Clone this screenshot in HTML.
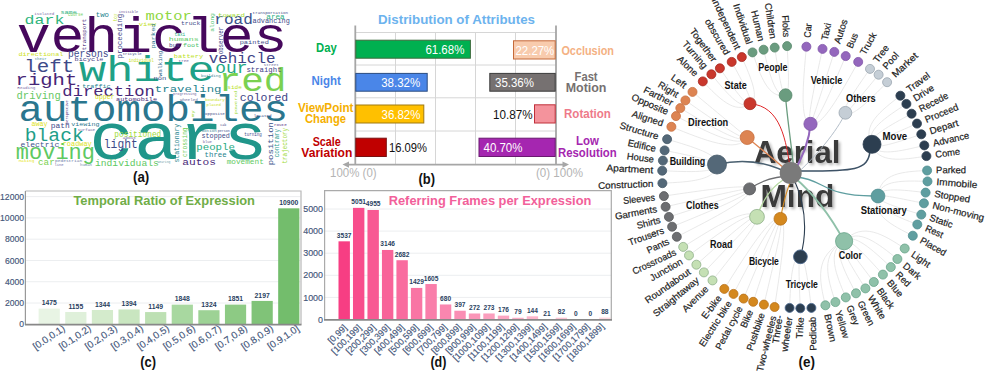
<!DOCTYPE html>
<html><head><meta charset="utf-8"><style>
html,body{margin:0;padding:0;background:#fff;}
svg{display:block;}
</style></head><body>
<svg width="986" height="373" viewBox="0 0 986 373">
<rect width="986" height="373" fill="#fff"/>
<g font-family="Liberation Mono" >
<text transform="translate(16.64,51.5) scale(1.130,1)" font-size="49.93" fill="#46085c">vehicles</text>
<text transform="translate(79.05,81.3) scale(1.275,1)" font-size="35.45" fill="#1fa187">white</text>
<text transform="translate(218.55,91) scale(1.135,1)" font-size="33.24" fill="#7ad151">red</text>
<text transform="translate(18.47,120.5) scale(1.097,1)" font-size="37.24" fill="#2a768e">automobiles</text>
<text transform="translate(89.32,159) scale(1.130,1)" font-size="65.72" fill="#20968a">cars</text>
<text transform="translate(24.79,141.2) scale(1.105,1)" font-size="17.79" fill="#1f9e89">black</text>
<text transform="translate(15.84,158.9) scale(1.028,1)" font-size="21.4" fill="#5ec962">moving</text>
<text transform="translate(24.19,71.7) scale(1.179,1)" font-size="17.66" fill="#3e4a89">left</text>
<text transform="translate(15.57,84.6) scale(1.233,1)" font-size="16.69" fill="#482677">right</text>
<text transform="translate(24.59,23.6) scale(1.225,1)" font-size="13.52" fill="#30b57c">dark</text>
<text transform="translate(145.56,20.1) scale(1.132,1)" font-size="13.64" fill="#8fd744">motor</text>
<text transform="translate(214.3,24.1) scale(1.121,1)" font-size="14.34" fill="#3b528b">road</text>
<text transform="translate(217.91,16.9) scale(1.362,1)" font-size="5.52" fill="#a5db36">toward</text>
<text transform="translate(252.57,23.3) scale(1.044,1)" font-size="6.62" fill="#3e4a89">advancing</text>
<text transform="translate(266.32,18.5) scale(1.158,1)" font-size="6.63" fill="#29af7f">area</text>
<text transform="translate(252.61,13.5) scale(1.020,1)" font-size="4.14" fill="#3e4a89">transportation</text>
<text transform="translate(181.01,25) scale(1.167,1)" font-size="5.52" fill="#3e4a89">truck</text>
<text transform="translate(174.59,36.2) scale(0.803,1)" font-size="5.52" fill="#26ad81">taxi</text>
<text transform="translate(168.85,41) scale(1.335,1)" font-size="6.21" fill="#5ec962">humans</text>
<text transform="translate(169.07,46.6) scale(0.978,1)" font-size="6.21" fill="#414487">bus</text>
<text transform="translate(183.05,46.6) scale(1.084,1)" font-size="6.21" fill="#4ac16d">foot</text>
<text transform="translate(173.79,58.3) scale(1.129,1)" font-size="6.21" fill="#bddf26">battery</text>
<text transform="translate(178.61,61.5) scale(1.241,1)" font-size="3.45" fill="#6c5c9c">tree</text>
<text transform="translate(239.69,44.2) scale(1.124,1)" font-size="6.21" fill="#3e4a89">painted</text>
<text transform="translate(208.78,62.9) scale(1.096,1)" font-size="14.48" fill="#414487">vehicle</text>
<text transform="translate(215.37,72.5) scale(1.074,1)" font-size="16.67" fill="#22a884">our</text>
<text transform="translate(246.41,71.7) scale(1.062,1)" font-size="6.9" fill="#433e85">straight</text>
<text transform="translate(239.87,100.6) scale(1.045,1)" font-size="11.03" fill="#414487">colored</text>
<text transform="translate(227.31,88.6) scale(0.972,1)" font-size="6.21" fill="#bddf26">side</text>
<text transform="translate(154.86,91.5) scale(1.297,1)" font-size="9.52" fill="#26828e">traveling</text>
<text transform="translate(153.38,79.7) scale(1.256,1)" font-size="5.68" fill="#3e4a89">non</text>
<text transform="translate(62.35,95.5) scale(1.141,1)" font-size="15.03" fill="#482878">direction</text>
<text transform="translate(116.08,101) scale(1.103,1)" font-size="6.21" fill="#482878">automobile</text>
<text transform="translate(95.01,99) scale(0.984,1)" font-size="6.63" fill="#d8e219">upper</text>
<text transform="translate(128.71,62) scale(0.864,1)" font-size="4.83" fill="#c8e020">individual</text>
<text transform="translate(122.64,54.8) scale(0.958,1)" font-size="4.14" fill="#3e4a89">tricycle</text>
<text transform="translate(95.72,16.9) scale(1.023,1)" font-size="7.2" fill="#26828e">two</text>
<text transform="translate(60.45,13.7) scale(1.127,1)" font-size="6.06" fill="#29af7f">same</text>
<text transform="translate(68.04,16) scale(0.882,1)" font-size="4.73" fill="#6ece58">course</text>
<text transform="translate(34.31,15.3) scale(1.004,1)" font-size="4.14" fill="#7c6ca8">isolated</text>
<text transform="translate(138.76,25.7) scale(1.162,1)" font-size="6.21" fill="#c2df23">view</text>
<text transform="translate(118.75,12.9) scale(0.872,1)" font-size="4.14" fill="#6c5c9c">invisible</text>
<text transform="translate(67.96,56.5) scale(0.926,1)" font-size="10.42" fill="#3e4a89">persons</text>
<text transform="translate(74.6,60.5) scale(1.244,1)" font-size="5.52" fill="#433e85">bicycle</text>
<text transform="translate(34.63,59.7) scale(0.960,1)" font-size="4.14" fill="#3e8a99">their</text>
<text transform="translate(18.44,56.4) scale(1.124,1)" font-size="6.07" fill="#cde11d">directional</text>
<text transform="translate(17.36,88.6) scale(1.243,1)" font-size="3.45" fill="#7c6ca8">Reading</text>
<text transform="translate(16.49,98.8) scale(1.047,1)" font-size="10.07" fill="#66c763">driving</text>
<text transform="translate(82.18,87.8) scale(1.090,1)" font-size="6.21" fill="#26828e">traffic</text>
<text transform="translate(31.59,125.9) scale(1.008,1)" font-size="6.63" fill="#dde318">away</text>
<text transform="translate(50.71,127.5) scale(1.146,1)" font-size="6.9" fill="#3e4a89">path</text>
<text transform="translate(71.28,125.9) scale(1.081,1)" font-size="6.21" fill="#2a788e">viewing</text>
<text transform="translate(77.66,130.7) scale(1.209,1)" font-size="3.45" fill="#6c5c9c">surface</text>
<text transform="translate(20.48,147.1) scale(1.065,1)" font-size="7.59" fill="#3b528b">electric</text>
<text transform="translate(62.68,146) scale(1.006,1)" font-size="6.9" fill="#dde318">roadway</text>
<text transform="translate(38.02,165) scale(0.980,1)" font-size="9.47" fill="#7ad151">car</text>
<text transform="translate(18.73,162) scale(1.260,1)" font-size="3.45" fill="#e5e419">Making</text>
<text transform="translate(55.11,162.3) scale(1.309,1)" font-size="3.45" fill="#6c7ca8">pedestrian</text>
<text transform="translate(54.5,166) scale(1.105,1)" font-size="3.45" fill="#6c6ca8">line</text>
<text transform="translate(80.04,165.5) scale(1.161,1)" font-size="3.45" fill="#6c8ca8">human</text>
<text transform="translate(157.67,163.3) scale(0.869,1)" font-size="3.45" fill="#6c9ca8">wearing</text>
<text transform="translate(103.83,147.6) scale(0.854,1)" font-size="13.24" fill="#3e4a89">light</text>
<text transform="translate(114.32,137.4) scale(0.948,1)" font-size="8.28" fill="#a0da39">positioned</text>
<text transform="translate(122.72,139) scale(1.309,1)" font-size="3.45" fill="#6c5c9c">about</text>
<text transform="translate(94.93,166) scale(1.079,1)" font-size="8.97" fill="#5ec962">individuals</text>
<text transform="translate(201.45,138) scale(0.985,1)" font-size="6.9" fill="#3e4a89">stopped</text>
<text transform="translate(196.27,149.5) scale(1.081,1)" font-size="9.93" fill="#25ab82">people</text>
<text transform="translate(204.62,157.3) scale(1.066,1)" font-size="6.9" fill="#26828e">three</text>
<text transform="translate(182.31,164.5) scale(1.250,1)" font-size="8.97" fill="#482878">autos</text>
<text transform="translate(226.63,163.7) scale(1.123,1)" font-size="6.9" fill="#5ec962">movement</text>
<text transform="translate(244.32,135.5) scale(0.865,1)" font-size="4.83" fill="#3e4a89">turning</text>
<text transform="translate(253.75,116.6) scale(1.230,1)" font-size="3.45" fill="#3e4a89">located</text>
<text transform="translate(205.04,114.6) scale(1.198,1)" font-size="3.45" fill="#3e4a89">opposite</text>
<text transform="translate(220.29,126) scale(0.955,1)" font-size="3.45" fill="#3e4a89">cab</text>
<text transform="translate(217.71,131.5) scale(0.965,1)" font-size="3.45" fill="#3e4a89">person</text>
<text transform="translate(201.8,132.3) scale(1.214,1)" font-size="3.45" fill="#3e8a99">motion</text>
<text transform="translate(202.66,142.8) scale(1.122,1)" font-size="3.45" fill="#6c5c9c">blue</text>
<text transform="translate(273.89,126) scale(1.246,1)" font-size="3.45" fill="#482878">route</text>
<text transform="translate(200.94,77.3) scale(1.002,1)" font-size="4.14" fill="#3e8a99">building</text>
<text transform="translate(263.66,66.1) scale(1.019,1)" font-size="4.14" fill="#6c6c9c">street</text>
<text transform="translate(204.94,100.6) scale(0.996,1)" font-size="4.14" fill="#c8e020">boundary</text>
<text transform="translate(206.55,105.5) scale(0.959,1)" font-size="4.14" fill="#c8e020">placed</text>
<text transform="translate(173.09,95.4) scale(0.857,1)" font-size="4.14" fill="#6c5c9c">progressing</text>
<text transform="translate(179.96,100.7) scale(1.030,1)" font-size="4.14" fill="#6c6c9c">wheeled</text>
<text transform="translate(86.46,50.34) rotate(-90) scale(1.067,1)" font-size="5.49" fill="#482878">transport</text>
<text transform="translate(121.55,58.55) rotate(-90) scale(1.069,1)" font-size="6.97" fill="#414487">proceeding</text>
<text transform="translate(117.05,21.4) rotate(-90) scale(0.952,1)" font-size="4.58" fill="#bddf26">toy</text>
<text transform="translate(154.89,48.61) rotate(-90) scale(1.307,1)" font-size="5.36" fill="#2a788e">parked</text>
<text transform="translate(213.51,31.78) rotate(-90) scale(1.180,1)" font-size="5.26" fill="#4ac16d">along</text>
<text transform="translate(223.32,54.26) rotate(-90) scale(0.751,1)" font-size="7.62" fill="#414487">observer</text>
<text transform="translate(162.11,76.56) rotate(-90) scale(1.181,1)" font-size="5.26" fill="#31688e">walking</text>
<text transform="translate(67.79,123.81) rotate(-90) scale(1.040,1)" font-size="3.43" fill="#482878">perspective</text>
<text transform="translate(178.57,162.52) rotate(-90) scale(0.941,1)" font-size="6.86" fill="#25858e">stationary</text>
<text transform="translate(186.58,156.89) rotate(-90) scale(0.892,1)" font-size="6.87" fill="#6ece58">crossing</text>
<text transform="translate(272.75,165.29) rotate(-90) scale(1.139,1)" font-size="7.93" fill="#3b528b">position</text>
<text transform="translate(279.47,157.37) rotate(-90) scale(0.929,1)" font-size="6.41" fill="#2a9d8f">contrary</text>
<text transform="translate(286.57,163.55) rotate(-90) scale(0.868,1)" font-size="6.86" fill="#a0da39">trajectory</text>
<text transform="translate(236.81,114.5) rotate(-90) scale(1.332,1)" font-size="4.29" fill="#a0da39">powered</text>
<text transform="translate(194.16,117.27) rotate(-90) scale(1.422,1)" font-size="4.02" fill="#a0da39">my</text>
</g>
<text x="133" y="182.2" font-family="Liberation Sans" font-weight="bold" font-size="14.8" textLength="16.3" lengthAdjust="spacingAndGlyphs" fill="#111">(a)</text>
<g font-family="Liberation Sans">
<text x="378" y="24" font-size="13" font-weight="bold" fill="#6cb3ee" textLength="157" lengthAdjust="spacingAndGlyphs">Distribution of Attributes</text>
<line x1="395.5" y1="32.5" x2="395.5" y2="164" stroke="#d6d6d6" stroke-width="1"/>
<line x1="435.5" y1="32.5" x2="435.5" y2="164" stroke="#d6d6d6" stroke-width="1"/>
<line x1="475.5" y1="32.5" x2="475.5" y2="164" stroke="#d6d6d6" stroke-width="1"/>
<line x1="515.5" y1="32.5" x2="515.5" y2="164" stroke="#d6d6d6" stroke-width="1"/>
<line x1="355" y1="32.5" x2="556" y2="32.5" stroke="#d6d6d6" stroke-width="1"/>
<line x1="355" y1="65" x2="556" y2="65" stroke="#d6d6d6" stroke-width="1"/>
<line x1="355" y1="97.8" x2="556" y2="97.8" stroke="#d6d6d6" stroke-width="1"/>
<line x1="355" y1="131" x2="556" y2="131" stroke="#d6d6d6" stroke-width="1"/>
<line x1="355.3" y1="25.5" x2="355.3" y2="164.5" stroke="#a6a6a6" stroke-width="1.8"/>
<line x1="556" y1="25.5" x2="556" y2="164.5" stroke="#a6a6a6" stroke-width="1.8"/>
<line x1="346" y1="164.6" x2="565" y2="164.6" stroke="#a6a6a6" stroke-width="1.8"/>
<path d="M342.5,164.6 L349,161.4 L349,167.8 Z" fill="#a6a6a6"/>
<path d="M569,164.6 L562.5,161.4 L562.5,167.8 Z" fill="#a6a6a6"/>
<rect x="355.8" y="40.2" width="114.6" height="18" fill="#00b050" stroke="#3d6b3d" stroke-width="1"/>
<rect x="355.8" y="73.4" width="71.4" height="17.8" fill="#4a86e8" stroke="#2b4c80" stroke-width="1"/>
<rect x="355.8" y="105.0" width="68" height="18" fill="#ffc000" stroke="#a07a10" stroke-width="1"/>
<rect x="355.8" y="138.2" width="30.5" height="18.3" fill="#c00000" stroke="#7a1010" stroke-width="1"/>
<rect x="513.5" y="40.8" width="41.7" height="18.2" fill="#f8cbad" stroke="#c56a3a" stroke-width="1"/>
<rect x="489.8" y="73.4" width="65.4" height="17.8" fill="#767171" stroke="#3b3b3b" stroke-width="1"/>
<rect x="534.5" y="104.8" width="20.7" height="18.2" fill="#f4939c" stroke="#c0303a" stroke-width="1"/>
<rect x="479.0" y="138.2" width="76.2" height="18.3" fill="#a526b0" stroke="#6a1a70" stroke-width="1"/>
<text x="425.4" y="53.6" font-size="12.5" fill="#fff" textLength="39" lengthAdjust="spacingAndGlyphs">61.68%</text>
<text x="381.2" y="86.8" font-size="12.5" fill="#fff" textLength="39" lengthAdjust="spacingAndGlyphs">38.32%</text>
<text x="381.5" y="118.8" font-size="12.5" fill="#fff" textLength="39" lengthAdjust="spacingAndGlyphs">36.82%</text>
<text x="389" y="151.8" font-size="12.5" fill="#111" textLength="38" lengthAdjust="spacingAndGlyphs">16.09%</text>
<text x="515.5" y="54.6" font-size="12.5" fill="#fff" textLength="38.8" lengthAdjust="spacingAndGlyphs">22.27%</text>
<text x="495" y="86.8" font-size="12.5" fill="#fff" textLength="39" lengthAdjust="spacingAndGlyphs">35.36%</text>
<text x="493" y="118.8" font-size="12.5" fill="#111" textLength="39.5" lengthAdjust="spacingAndGlyphs">10.87%</text>
<text x="483.5" y="151.8" font-size="12.5" fill="#fff" textLength="39" lengthAdjust="spacingAndGlyphs">40.70%</text>
<text x="316" y="52.3" font-size="12" fill="#00b050" font-weight="bold" textLength="20.7" lengthAdjust="spacingAndGlyphs">Day</text>
<text x="311.5" y="85.3" font-size="12" fill="#4a86e8" font-weight="bold" textLength="29.3" lengthAdjust="spacingAndGlyphs">Night</text>
<text x="298" y="112.3" font-size="12" fill="#f5b000" font-weight="bold" textLength="55.5" lengthAdjust="spacingAndGlyphs">ViewPoint</text>
<text x="305" y="123.2" font-size="12" fill="#f5b000" font-weight="bold" textLength="41" lengthAdjust="spacingAndGlyphs">Change</text>
<text x="312.7" y="146" font-size="12" fill="#c00000" font-weight="bold" textLength="28.1" lengthAdjust="spacingAndGlyphs">Scale</text>
<text x="301.3" y="157.4" font-size="12" fill="#c00000" font-weight="bold" textLength="51" lengthAdjust="spacingAndGlyphs">Variation</text>
<text x="561.4" y="54.8" font-size="12" fill="#f4b183" font-weight="bold" textLength="52.6" lengthAdjust="spacingAndGlyphs">Occlusion</text>
<text x="574.6" y="81" font-size="12" fill="#767171" font-weight="bold" textLength="23" lengthAdjust="spacingAndGlyphs">Fast</text>
<text x="565.7" y="92.2" font-size="12" fill="#767171" font-weight="bold" textLength="40.8" lengthAdjust="spacingAndGlyphs">Motion</text>
<text x="564" y="118.4" font-size="12" fill="#ee7a8a" font-weight="bold" textLength="46.8" lengthAdjust="spacingAndGlyphs">Rotation</text>
<text x="576" y="145.4" font-size="12" fill="#a526b0" font-weight="bold" textLength="22.9" lengthAdjust="spacingAndGlyphs">Low</text>
<text x="558" y="156.7" font-size="12" fill="#a526b0" font-weight="bold" textLength="58.7" lengthAdjust="spacingAndGlyphs">Resolution</text>
<text x="330.1" y="177.3" font-size="12.5" fill="#b4b4b4" textLength="46.5" lengthAdjust="spacingAndGlyphs">100% (0)</text>
<text x="536" y="176.8" font-size="12.5" fill="#b4b4b4" textLength="47" lengthAdjust="spacingAndGlyphs">(0) 100%</text>
<text x="418.5" y="184.3" font-size="14.8" fill="#111" font-weight="bold" textLength="16.5" lengthAdjust="spacingAndGlyphs">(b)</text>
</g>
<g font-family="Liberation Sans">
<line x1="26" y1="303.02" x2="300.5" y2="303.02" stroke="#eceef0" stroke-width="1"/>
<line x1="26" y1="281.74" x2="300.5" y2="281.74" stroke="#eceef0" stroke-width="1"/>
<line x1="26" y1="260.46" x2="300.5" y2="260.46" stroke="#eceef0" stroke-width="1"/>
<line x1="26" y1="239.18" x2="300.5" y2="239.18" stroke="#eceef0" stroke-width="1"/>
<line x1="26" y1="217.9" x2="300.5" y2="217.9" stroke="#eceef0" stroke-width="1"/>
<line x1="26" y1="196.62" x2="300.5" y2="196.62" stroke="#eceef0" stroke-width="1"/>
<text x="24" y="327.4" font-size="8.6" fill="#44567a" text-anchor="end" stroke="#44567a" stroke-width="0.15">0</text>
<text x="24" y="306.12" font-size="8.6" fill="#44567a" text-anchor="end" stroke="#44567a" stroke-width="0.15">2000</text>
<text x="24" y="284.84" font-size="8.6" fill="#44567a" text-anchor="end" stroke="#44567a" stroke-width="0.15">4000</text>
<text x="24" y="263.56" font-size="8.6" fill="#44567a" text-anchor="end" stroke="#44567a" stroke-width="0.15">6000</text>
<text x="24" y="242.28" font-size="8.6" fill="#44567a" text-anchor="end" stroke="#44567a" stroke-width="0.15">8000</text>
<text x="24" y="221" font-size="8.6" fill="#44567a" text-anchor="end" stroke="#44567a" stroke-width="0.15">10000</text>
<text x="24" y="199.72" font-size="8.6" fill="#44567a" text-anchor="end" stroke="#44567a" stroke-width="0.15">12000</text>
<rect x="38.6" y="308.61" width="21.2" height="15.69" fill="#e8f4e4"/>
<text x="49.2" y="305.31" font-size="6.8" fill="#2a3f5f" text-anchor="middle" font-weight="bold">1475</text>
<text transform="translate(48.9,337.4) rotate(-34)" text-anchor="middle" dy="3.3" font-size="9.9" fill="#44567a" stroke="#44567a" stroke-width="0.15">[0.0,0.1)</text>
<rect x="65.22" y="312.01" width="21.2" height="12.29" fill="#dff0da"/>
<text x="75.82" y="308.71" font-size="6.8" fill="#2a3f5f" text-anchor="middle" font-weight="bold">1155</text>
<text transform="translate(74.94,337.4) rotate(-34)" text-anchor="middle" dy="3.3" font-size="9.9" fill="#44567a" stroke="#44567a" stroke-width="0.15">[0.1,0.2)</text>
<rect x="91.84" y="310" width="21.2" height="14.3" fill="#d4ebcc"/>
<text x="102.44" y="306.7" font-size="6.8" fill="#2a3f5f" text-anchor="middle" font-weight="bold">1344</text>
<text transform="translate(100.98,337.4) rotate(-34)" text-anchor="middle" dy="3.3" font-size="9.9" fill="#44567a" stroke="#44567a" stroke-width="0.15">[0.2,0.3)</text>
<rect x="118.46" y="309.47" width="21.2" height="14.83" fill="#c9e6c0"/>
<text x="129.06" y="306.17" font-size="6.8" fill="#2a3f5f" text-anchor="middle" font-weight="bold">1394</text>
<text transform="translate(127.02,337.4) rotate(-34)" text-anchor="middle" dy="3.3" font-size="9.9" fill="#44567a" stroke="#44567a" stroke-width="0.15">[0.3,0.4)</text>
<rect x="145.08" y="312.07" width="21.2" height="12.23" fill="#bde0b3"/>
<text x="155.68" y="308.77" font-size="6.8" fill="#2a3f5f" text-anchor="middle" font-weight="bold">1149</text>
<text transform="translate(153.06,337.4) rotate(-34)" text-anchor="middle" dy="3.3" font-size="9.9" fill="#44567a" stroke="#44567a" stroke-width="0.15">[0.4,0.5)</text>
<rect x="171.7" y="304.64" width="21.2" height="19.66" fill="#a8d8a0"/>
<text x="182.3" y="301.34" font-size="6.8" fill="#2a3f5f" text-anchor="middle" font-weight="bold">1848</text>
<text transform="translate(179.1,337.4) rotate(-34)" text-anchor="middle" dy="3.3" font-size="9.9" fill="#44567a" stroke="#44567a" stroke-width="0.15">[0.5,0.6)</text>
<rect x="198.32" y="310.21" width="21.2" height="14.09" fill="#9dd295"/>
<text x="208.92" y="306.91" font-size="6.8" fill="#2a3f5f" text-anchor="middle" font-weight="bold">1324</text>
<text transform="translate(205.14,337.4) rotate(-34)" text-anchor="middle" dy="3.3" font-size="9.9" fill="#44567a" stroke="#44567a" stroke-width="0.15">[0.6,0.7)</text>
<rect x="224.94" y="304.61" width="21.2" height="19.69" fill="#8dca84"/>
<text x="235.54" y="301.31" font-size="6.8" fill="#2a3f5f" text-anchor="middle" font-weight="bold">1851</text>
<text transform="translate(231.18,337.4) rotate(-34)" text-anchor="middle" dy="3.3" font-size="9.9" fill="#44567a" stroke="#44567a" stroke-width="0.15">[0.7,0.8)</text>
<rect x="251.56" y="300.92" width="21.2" height="23.38" fill="#80c378"/>
<text x="262.16" y="297.62" font-size="6.8" fill="#2a3f5f" text-anchor="middle" font-weight="bold">2197</text>
<text transform="translate(257.22,337.4) rotate(-34)" text-anchor="middle" dy="3.3" font-size="9.9" fill="#44567a" stroke="#44567a" stroke-width="0.15">[0.8,0.9)</text>
<rect x="278.18" y="208.32" width="21.2" height="115.98" fill="#73bd6c"/>
<text x="288.78" y="205.02" font-size="6.8" fill="#2a3f5f" text-anchor="middle" font-weight="bold">10900</text>
<text transform="translate(283.26,337.4) rotate(-34)" text-anchor="middle" dy="3.3" font-size="9.9" fill="#44567a" stroke="#44567a" stroke-width="0.15">[0.9,1.0]</text>
<path d="M25.4,191 L301,191 L301,324.5" fill="none" stroke="#b8b8b8" stroke-width="1.2"/>
<line x1="25.4" y1="191" x2="25.4" y2="325" stroke="#999" stroke-width="1.2"/>
<line x1="25" y1="324.6" x2="301.5" y2="324.6" stroke="#888" stroke-width="1.8"/>
<text x="73.4" y="205.4" font-size="12.9" fill="#70ad47" font-weight="bold" textLength="181.6" lengthAdjust="spacingAndGlyphs">Temporal Ratio of Expression</text>
<text x="140.2" y="367" font-size="14.8" fill="#111" font-weight="bold" textLength="15.8" lengthAdjust="spacingAndGlyphs">(c)</text>
</g>
<g font-family="Liberation Sans">
<line x1="325" y1="297.4" x2="611" y2="297.4" stroke="#eceef0" stroke-width="1"/>
<line x1="325" y1="275.3" x2="611" y2="275.3" stroke="#eceef0" stroke-width="1"/>
<line x1="325" y1="253.2" x2="611" y2="253.2" stroke="#eceef0" stroke-width="1"/>
<line x1="325" y1="231.1" x2="611" y2="231.1" stroke="#eceef0" stroke-width="1"/>
<line x1="325" y1="209" x2="611" y2="209" stroke="#eceef0" stroke-width="1"/>
<text x="323" y="322.6" font-size="8.9" fill="#44567a" text-anchor="end" stroke="#44567a" stroke-width="0.15">0</text>
<text x="323" y="300.5" font-size="8.9" fill="#44567a" text-anchor="end" stroke="#44567a" stroke-width="0.15">1000</text>
<text x="323" y="278.4" font-size="8.9" fill="#44567a" text-anchor="end" stroke="#44567a" stroke-width="0.15">2000</text>
<text x="323" y="256.3" font-size="8.9" fill="#44567a" text-anchor="end" stroke="#44567a" stroke-width="0.15">3000</text>
<text x="323" y="234.2" font-size="8.9" fill="#44567a" text-anchor="end" stroke="#44567a" stroke-width="0.15">4000</text>
<text x="323" y="212.1" font-size="8.9" fill="#44567a" text-anchor="end" stroke="#44567a" stroke-width="0.15">5000</text>
<rect x="338.5" y="241.33" width="11.4" height="78.17" fill="#f73e83"/>
<text x="344.2" y="237.83" font-size="6.6" fill="#2a3f5f" text-anchor="middle" font-weight="bold">3537</text>
<text transform="translate(345.3,325.8) rotate(-45)" text-anchor="end" dy="3.3" font-size="9.1" fill="#44567a" stroke="#44567a" stroke-width="0.15">[0,99]</text>
<rect x="352.98" y="207.87" width="11.4" height="111.63" fill="#f84d8c"/>
<text x="358.68" y="204.37" font-size="6.6" fill="#2a3f5f" text-anchor="middle" font-weight="bold">5051</text>
<text transform="translate(359.58,325.74) rotate(-45)" text-anchor="end" dy="3.3" font-size="9.1" fill="#44567a" stroke="#44567a" stroke-width="0.15">[100,199]</text>
<rect x="367.46" y="209.99" width="11.4" height="109.51" fill="#f85993"/>
<text x="373.16" y="206.49" font-size="6.6" fill="#2a3f5f" text-anchor="middle" font-weight="bold">4955</text>
<text transform="translate(373.86,325.68) rotate(-45)" text-anchor="end" dy="3.3" font-size="9.1" fill="#44567a" stroke="#44567a" stroke-width="0.15">[200,299]</text>
<rect x="381.94" y="249.97" width="11.4" height="69.53" fill="#f86399"/>
<text x="387.64" y="246.47" font-size="6.6" fill="#2a3f5f" text-anchor="middle" font-weight="bold">3146</text>
<text transform="translate(388.14,325.62) rotate(-45)" text-anchor="end" dy="3.3" font-size="9.1" fill="#44567a" stroke="#44567a" stroke-width="0.15">[300,399]</text>
<rect x="396.42" y="260.23" width="11.4" height="59.27" fill="#f96c9f"/>
<text x="402.12" y="256.73" font-size="6.6" fill="#2a3f5f" text-anchor="middle" font-weight="bold">2682</text>
<text transform="translate(402.42,325.56) rotate(-45)" text-anchor="end" dy="3.3" font-size="9.1" fill="#44567a" stroke="#44567a" stroke-width="0.15">[400,499]</text>
<rect x="410.9" y="287.92" width="11.4" height="31.58" fill="#f975a4"/>
<text x="416.6" y="284.42" font-size="6.6" fill="#2a3f5f" text-anchor="middle" font-weight="bold">1429</text>
<text transform="translate(416.7,325.5) rotate(-45)" text-anchor="end" dy="3.3" font-size="9.1" fill="#44567a" stroke="#44567a" stroke-width="0.15">[500,599]</text>
<rect x="425.38" y="284.03" width="11.4" height="35.47" fill="#f97eaa"/>
<text x="431.08" y="280.53" font-size="6.6" fill="#2a3f5f" text-anchor="middle" font-weight="bold">1605</text>
<text transform="translate(430.98,325.44) rotate(-45)" text-anchor="end" dy="3.3" font-size="9.1" fill="#44567a" stroke="#44567a" stroke-width="0.15">[600,699]</text>
<rect x="439.86" y="304.47" width="11.4" height="15.03" fill="#fa86af"/>
<text x="445.56" y="300.97" font-size="6.6" fill="#2a3f5f" text-anchor="middle" font-weight="bold">680</text>
<text transform="translate(445.26,325.38) rotate(-45)" text-anchor="end" dy="3.3" font-size="9.1" fill="#44567a" stroke="#44567a" stroke-width="0.15">[700,799]</text>
<rect x="454.34" y="310.73" width="11.4" height="8.77" fill="#fa8eb4"/>
<text x="460.04" y="307.23" font-size="6.6" fill="#2a3f5f" text-anchor="middle" font-weight="bold">397</text>
<text transform="translate(459.54,325.32) rotate(-45)" text-anchor="end" dy="3.3" font-size="9.1" fill="#44567a" stroke="#44567a" stroke-width="0.15">[800,899]</text>
<rect x="468.82" y="313.49" width="11.4" height="6.01" fill="#fa96b8"/>
<text x="474.52" y="309.99" font-size="6.6" fill="#2a3f5f" text-anchor="middle" font-weight="bold">272</text>
<text transform="translate(473.82,325.26) rotate(-45)" text-anchor="end" dy="3.3" font-size="9.1" fill="#44567a" stroke="#44567a" stroke-width="0.15">[900,999]</text>
<rect x="483.3" y="313.47" width="11.4" height="6.03" fill="#fb9ebd"/>
<text x="489" y="309.97" font-size="6.6" fill="#2a3f5f" text-anchor="middle" font-weight="bold">273</text>
<text transform="translate(488.1,325.2) rotate(-45)" text-anchor="end" dy="3.3" font-size="9.1" fill="#44567a" stroke="#44567a" stroke-width="0.15">[1000,1099]</text>
<rect x="497.78" y="315.61" width="11.4" height="3.89" fill="#fba6c2"/>
<text x="503.48" y="312.11" font-size="6.6" fill="#2a3f5f" text-anchor="middle" font-weight="bold">176</text>
<text transform="translate(502.38,325.14) rotate(-45)" text-anchor="end" dy="3.3" font-size="9.1" fill="#44567a" stroke="#44567a" stroke-width="0.15">[1100,1199]</text>
<rect x="512.26" y="317.75" width="11.4" height="1.75" fill="#fbadc6"/>
<text x="517.96" y="314.25" font-size="6.6" fill="#2a3f5f" text-anchor="middle" font-weight="bold">79</text>
<text transform="translate(516.66,325.08) rotate(-45)" text-anchor="end" dy="3.3" font-size="9.1" fill="#44567a" stroke="#44567a" stroke-width="0.15">[1200,1299]</text>
<rect x="526.74" y="316.32" width="11.4" height="3.18" fill="#fcb5cb"/>
<text x="532.44" y="312.82" font-size="6.6" fill="#2a3f5f" text-anchor="middle" font-weight="bold">144</text>
<text transform="translate(530.94,325.02) rotate(-45)" text-anchor="end" dy="3.3" font-size="9.1" fill="#44567a" stroke="#44567a" stroke-width="0.15">[1300,1399]</text>
<rect x="541.22" y="319.04" width="11.4" height="0.46" fill="#fcbccf"/>
<text x="546.92" y="315.54" font-size="6.6" fill="#2a3f5f" text-anchor="middle" font-weight="bold">21</text>
<text transform="translate(545.22,324.96) rotate(-45)" text-anchor="end" dy="3.3" font-size="9.1" fill="#44567a" stroke="#44567a" stroke-width="0.15">[1400,1499]</text>
<rect x="555.7" y="317.69" width="11.4" height="1.81" fill="#fcc3d3"/>
<text x="561.4" y="314.19" font-size="6.6" fill="#2a3f5f" text-anchor="middle" font-weight="bold">82</text>
<text transform="translate(559.5,324.9) rotate(-45)" text-anchor="end" dy="3.3" font-size="9.1" fill="#44567a" stroke="#44567a" stroke-width="0.15">[1500,1599]</text>
<text x="575.88" y="316" font-size="6.6" fill="#2a3f5f" text-anchor="middle" font-weight="bold">0</text>
<text transform="translate(573.78,324.84) rotate(-45)" text-anchor="end" dy="3.3" font-size="9.1" fill="#44567a" stroke="#44567a" stroke-width="0.15">[1600,1699]</text>
<text x="590.36" y="316" font-size="6.6" fill="#2a3f5f" text-anchor="middle" font-weight="bold">0</text>
<text transform="translate(588.06,324.78) rotate(-45)" text-anchor="end" dy="3.3" font-size="9.1" fill="#44567a" stroke="#44567a" stroke-width="0.15">[1700,1799]</text>
<rect x="599.14" y="317.56" width="11.4" height="1.94" fill="#fdd8e0"/>
<text x="604.84" y="314.06" font-size="6.6" fill="#2a3f5f" text-anchor="middle" font-weight="bold">88</text>
<text transform="translate(602.34,324.72) rotate(-45)" text-anchor="end" dy="3.3" font-size="9.1" fill="#44567a" stroke="#44567a" stroke-width="0.15">[1800,1899]</text>
<path d="M324.6,319.5 L324.6,190.6 L611.3,190.6 L611.3,320" fill="none" stroke="#aaa" stroke-width="1.2"/>
<line x1="324" y1="319.8" x2="612" y2="319.8" stroke="#888" stroke-width="1.8"/>
<text x="388.7" y="205.4" font-size="13.5" fill="#f2609a" font-weight="bold" textLength="202.7" lengthAdjust="spacingAndGlyphs">Referring Frames per Expression</text>
<text x="430.4" y="367" font-size="14.8" fill="#111" font-weight="bold" textLength="16" lengthAdjust="spacingAndGlyphs">(d)</text>
</g>
<defs><filter id="sh" x="-20%" y="-20%" width="140%" height="140%"><feGaussianBlur in="SourceAlpha" stdDeviation="1.5"/><feOffset dx="1.5" dy="1.8" result="o"/><feComponentTransfer><feFuncA type="linear" slope="0.3"/></feComponentTransfer><feMerge><feMergeNode/><feMergeNode in="SourceGraphic"/></feMerge></filter></defs>
<g font-family="Liberation Sans" font-weight="bold" fill="#3a3a3a" filter="url(#sh)">
<text x="753.9" y="163.1" font-size="31" fill="#3a3a3a" font-weight="bold" textLength="86.5" lengthAdjust="spacingAndGlyphs">Aerial</text>
<text x="760.4" y="207.3" font-size="31" fill="#3a3a3a" font-weight="bold" textLength="74" lengthAdjust="spacingAndGlyphs">Mind</text>
</g>
<g font-family="Liberation Sans">
<path d="M750,103.7 C735.22,115.1 719.01,98.25 702.8,81.4" fill="none" stroke="#e2e2e2" stroke-width="0.75"/>
<path d="M750,103.7 C740.63,110.31 726.02,92.31 711.4,74.3" fill="none" stroke="#e2e2e2" stroke-width="0.75"/>
<path d="M750,103.7 C746.04,106.27 732.97,87.28 719.9,68.3" fill="none" stroke="#e2e2e2" stroke-width="0.75"/>
<path d="M750,103.7 C753.48,101.69 742.59,81.79 731.7,61.9" fill="none" stroke="#e2e2e2" stroke-width="0.75"/>
<path d="M750,103.7 C760.04,98.45 750.92,77.78 741.8,57.1" fill="none" stroke="#e2e2e2" stroke-width="0.75"/>
<path d="M785.6,95.2 C768.28,99.04 760.39,75.72 752.5,52.4" fill="none" stroke="#e2e2e2" stroke-width="0.75"/>
<path d="M785.6,95.2 C775.15,97.04 769.37,73.37 763.6,49.7" fill="none" stroke="#e2e2e2" stroke-width="0.75"/>
<path d="M785.6,95.2 C782.1,95.66 778.4,71.63 774.7,47.6" fill="none" stroke="#e2e2e2" stroke-width="0.75"/>
<path d="M785.6,95.2 C789.9,94.84 788.5,70.47 787.1,46.1" fill="none" stroke="#e2e2e2" stroke-width="0.75"/>
<path d="M810.5,123.9 C799.59,121.79 802.99,84.24 806.4,46.7" fill="none" stroke="#e2e2e2" stroke-width="0.75"/>
<path d="M810.5,123.9 C806.37,122.83 814.44,85.87 822.5,48.9" fill="none" stroke="#e2e2e2" stroke-width="0.75"/>
<path d="M810.5,123.9 C811.33,124.16 822.82,88.03 834.3,51.9" fill="none" stroke="#e2e2e2" stroke-width="0.75"/>
<path d="M810.5,123.9 C816.14,125.93 830.92,91.02 845.7,56.1" fill="none" stroke="#e2e2e2" stroke-width="0.75"/>
<path d="M810.5,123.9 C821.35,128.47 839.78,95.19 858.2,61.9" fill="none" stroke="#e2e2e2" stroke-width="0.75"/>
<path d="M845.4,112.8 C841.4,109.82 855.7,89.36 870,68.9" fill="none" stroke="#e2e2e2" stroke-width="0.75"/>
<path d="M845.4,112.8 C846.51,113.7 862.56,94.2 878.6,74.7" fill="none" stroke="#e2e2e2" stroke-width="0.75"/>
<path d="M845.4,112.8 C851.73,118.38 869.41,100.29 887.1,82.2" fill="none" stroke="#e2e2e2" stroke-width="0.75"/>
<path d="M872,144.3 C861.22,125.73 880.81,110.71 900.4,95.7" fill="none" stroke="#e2e2e2" stroke-width="0.75"/>
<path d="M872,144.3 C864.92,130.95 885.66,117.42 906.4,103.9" fill="none" stroke="#e2e2e2" stroke-width="0.75"/>
<path d="M872,144.3 C868.49,136.95 890.04,125.33 911.6,113.7" fill="none" stroke="#e2e2e2" stroke-width="0.75"/>
<path d="M872,144.3 C871.59,143.34 894.29,133.47 917,123.6" fill="none" stroke="#e2e2e2" stroke-width="0.75"/>
<path d="M872,144.3 C874.19,150.1 897.74,142.2 921.3,134.3" fill="none" stroke="#e2e2e2" stroke-width="0.75"/>
<path d="M872,144.3 C876.19,157.05 900.24,151.22 924.3,145.4" fill="none" stroke="#e2e2e2" stroke-width="0.75"/>
<path d="M872,144.3 C877.53,163.78 901.96,159.94 926.4,156.1" fill="none" stroke="#e2e2e2" stroke-width="0.75"/>
<path d="M878,196 C880.08,172.74 903.59,171.62 927.1,170.5" fill="none" stroke="#e2e2e2" stroke-width="0.75"/>
<path d="M878,196 C880.13,179.76 903.82,180.58 927.5,181.4" fill="none" stroke="#e2e2e2" stroke-width="0.75"/>
<path d="M878,196 C879.57,187.05 902.58,189.82 925.6,192.6" fill="none" stroke="#e2e2e2" stroke-width="0.75"/>
<path d="M878,196 C878.44,193.98 901.17,198.64 923.9,203.3" fill="none" stroke="#e2e2e2" stroke-width="0.75"/>
<path d="M878,196 C876.61,201.27 898.95,207.93 921.3,214.6" fill="none" stroke="#e2e2e2" stroke-width="0.75"/>
<path d="M878,196 C874.37,207.81 895.83,216.15 917.3,224.5" fill="none" stroke="#e2e2e2" stroke-width="0.75"/>
<path d="M878,196 C871.2,214.97 892,225.33 912.8,235.7" fill="none" stroke="#e2e2e2" stroke-width="0.75"/>
<path d="M844.1,241.2 C862.66,221.13 883.68,234.81 904.7,248.5" fill="none" stroke="#e2e2e2" stroke-width="0.75"/>
<path d="M844.1,241.2 C858.04,227.53 877.72,243.26 897.4,259" fill="none" stroke="#e2e2e2" stroke-width="0.75"/>
<path d="M844.1,241.2 C853.82,232.39 872.31,249.75 890.8,267.1" fill="none" stroke="#e2e2e2" stroke-width="0.75"/>
<path d="M844.1,241.2 C849.03,237.09 865.97,255.84 882.9,274.6" fill="none" stroke="#e2e2e2" stroke-width="0.75"/>
<path d="M844.1,241.2 C843.45,241.69 858.63,261.85 873.8,282" fill="none" stroke="#e2e2e2" stroke-width="0.75"/>
<path d="M844.1,241.2 C838.11,245.39 851.76,266.89 865.4,288.4" fill="none" stroke="#e2e2e2" stroke-width="0.75"/>
<path d="M844.1,241.2 C832.47,248.66 844.24,270.98 856,293.3" fill="none" stroke="#e2e2e2" stroke-width="0.75"/>
<path d="M844.1,241.2 C826.34,251.57 836.07,274.48 845.8,297.4" fill="none" stroke="#e2e2e2" stroke-width="0.75"/>
<path d="M844.1,241.2 C819.75,254.03 827.57,278.07 835.4,302.1" fill="none" stroke="#e2e2e2" stroke-width="0.75"/>
<path d="M844.1,241.2 C813.53,255.79 819.47,280.54 825.4,305.3" fill="none" stroke="#e2e2e2" stroke-width="0.75"/>
<path d="M800.4,256.8 C804.8,256.36 808.1,282.13 811.4,307.9" fill="none" stroke="#e2e2e2" stroke-width="0.75"/>
<path d="M800.4,256.8 C798.07,256.93 799.19,282.62 800.3,308.3" fill="none" stroke="#e2e2e2" stroke-width="0.75"/>
<path d="M800.4,256.8 C791.54,256.95 790.57,282.43 789.6,307.9" fill="none" stroke="#e2e2e2" stroke-width="0.75"/>
<path d="M780.4,218.8 C787.87,220.62 781.23,263.81 774.6,307" fill="none" stroke="#e2e2e2" stroke-width="0.75"/>
<path d="M780.4,218.8 C784.24,219.91 774.07,262.25 763.9,304.6" fill="none" stroke="#e2e2e2" stroke-width="0.75"/>
<path d="M780.4,218.8 C780.66,218.89 766.93,260.34 753.2,301.8" fill="none" stroke="#e2e2e2" stroke-width="0.75"/>
<path d="M780.4,218.8 C777.48,217.7 760.54,258.15 743.6,298.6" fill="none" stroke="#e2e2e2" stroke-width="0.75"/>
<path d="M780.4,218.8 C774.09,216.11 753.8,255 733.5,293.9" fill="none" stroke="#e2e2e2" stroke-width="0.75"/>
<path d="M780.4,218.8 C771.05,214.36 747.67,251.63 724.3,288.9" fill="none" stroke="#e2e2e2" stroke-width="0.75"/>
<path d="M757,216.8 C760.5,219.83 736.5,250.11 712.5,280.4" fill="none" stroke="#e2e2e2" stroke-width="0.75"/>
<path d="M757,216.8 C756.82,216.63 730.36,244.51 703.9,272.4" fill="none" stroke="#e2e2e2" stroke-width="0.75"/>
<path d="M757,216.8 C753.7,213.41 725.05,239.06 696.4,264.7" fill="none" stroke="#e2e2e2" stroke-width="0.75"/>
<path d="M757,216.8 C750.56,209.58 719.78,232.49 689,255.4" fill="none" stroke="#e2e2e2" stroke-width="0.75"/>
<path d="M757,216.8 C748.14,206.04 715.67,226.47 683.2,246.9" fill="none" stroke="#e2e2e2" stroke-width="0.75"/>
<path d="M749.6,188.9 C753.08,197.95 714.94,217.37 676.8,236.8" fill="none" stroke="#e2e2e2" stroke-width="0.75"/>
<path d="M749.6,188.9 C751.44,194.38 711.77,210.54 672.1,226.7" fill="none" stroke="#e2e2e2" stroke-width="0.75"/>
<path d="M749.6,188.9 C750.21,190.96 709.55,203.93 668.9,216.9" fill="none" stroke="#e2e2e2" stroke-width="0.75"/>
<path d="M749.6,188.9 C749.21,187.36 707.41,197.08 665.6,206.8" fill="none" stroke="#e2e2e2" stroke-width="0.75"/>
<path d="M749.6,188.9 C748.5,183.61 706.2,189.85 663.9,196.1" fill="none" stroke="#e2e2e2" stroke-width="0.75"/>
<path d="M717,164.5 C716.12,180.6 689.26,181.9 662.4,183.2" fill="none" stroke="#e2e2e2" stroke-width="0.75"/>
<path d="M717,164.5 C716.11,173.18 689.16,171.94 662.2,170.7" fill="none" stroke="#e2e2e2" stroke-width="0.75"/>
<path d="M717,164.5 C716.62,167.21 689.76,163.9 662.9,160.6" fill="none" stroke="#e2e2e2" stroke-width="0.75"/>
<path d="M717,164.5 C717.6,161.16 691.1,155.78 664.6,150.4" fill="none" stroke="#e2e2e2" stroke-width="0.75"/>
<path d="M717,164.5 C719.24,154.58 693.17,146.89 667.1,139.2" fill="none" stroke="#e2e2e2" stroke-width="0.75"/>
<path d="M747.2,137.5 C737.55,153.65 704.47,140.22 671.4,126.8" fill="none" stroke="#e2e2e2" stroke-width="0.75"/>
<path d="M747.2,137.5 C739.79,148.75 707.89,132.42 676,116.1" fill="none" stroke="#e2e2e2" stroke-width="0.75"/>
<path d="M747.2,137.5 C741.83,145.08 711.06,126.59 680.3,108.1" fill="none" stroke="#e2e2e2" stroke-width="0.75"/>
<path d="M747.2,137.5 C744.15,141.5 714.77,120.95 685.4,100.4" fill="none" stroke="#e2e2e2" stroke-width="0.75"/>
<path d="M747.2,137.5 C747.26,137.43 719.88,114.67 692.5,91.9" fill="none" stroke="#e2e2e2" stroke-width="0.75"/>
<path d="M790.9,172.8 C786,140 781,106 750,103.7" fill="none" stroke="#e0282a" stroke-width="1.0"/>
<path d="M794.6,176.8 C791,140 786,110 785.6,95.2" fill="none" stroke="#6a9c7f" stroke-width="1.3"/>
<path d="M793,175 C800,160 809,145 810.5,123.9" fill="none" stroke="#9467bd" stroke-width="2.0"/>
<path d="M794,176 C815,158 838,130 845.4,112.8" fill="none" stroke="#aab6c2" stroke-width="0.9"/>
<path d="M797,171 C850,171 869,172 870,150" fill="none" stroke="#3d5266" stroke-width="1.6"/>
<path d="M797,177 C825,180 823,196 873,196" fill="none" stroke="#5f9ea0" stroke-width="1.3"/>
<path d="M794,177 C815,195 830,215 844.1,241.2" fill="none" stroke="#8fc1a9" stroke-width="1.8"/>
<path d="M793,177 C806,205 808,230 800.4,256.8" fill="none" stroke="#2c3e50" stroke-width="1.1"/>
<path d="M793,177 C788,185 784,200 780.4,218.8" fill="none" stroke="#d4881e" stroke-width="1.1"/>
<path d="M791,176 C776,182 764,196 757,216.8" fill="none" stroke="#b5d9a0" stroke-width="1.3"/>
<path d="M793,176 C775,176 762,180 749.6,188.9" fill="none" stroke="#6d6e71" stroke-width="1.3"/>
<path d="M793,176 C770,162 745,158 717,164.5" fill="none" stroke="#4a6070" stroke-width="1.5"/>
<path d="M793,176 C775,160 760,148 747.2,137.5" fill="none" stroke="#dd8452" stroke-width="1.3"/>
<circle cx="750.0" cy="103.7" r="6.0" fill="#c9372c" stroke="#a52a22" stroke-width="0.8"/>
<circle cx="702.8" cy="81.4" r="4.5" fill="#c9372c" stroke="#a52a22" stroke-width="0.8"/>
<circle cx="711.4" cy="74.3" r="4.5" fill="#c9372c" stroke="#a52a22" stroke-width="0.8"/>
<circle cx="719.9" cy="68.3" r="4.5" fill="#c9372c" stroke="#a52a22" stroke-width="0.8"/>
<circle cx="731.7" cy="61.9" r="4.5" fill="#c9372c" stroke="#a52a22" stroke-width="0.8"/>
<circle cx="741.8" cy="57.1" r="4.5" fill="#c9372c" stroke="#a52a22" stroke-width="0.8"/>
<circle cx="785.6" cy="95.2" r="6.4" fill="#6a9c7f" stroke="#5a8a6e" stroke-width="0.8"/>
<circle cx="752.5" cy="52.4" r="4.5" fill="#6a9c7f" stroke="#5a8a6e" stroke-width="0.8"/>
<circle cx="763.6" cy="49.7" r="4.5" fill="#6a9c7f" stroke="#5a8a6e" stroke-width="0.8"/>
<circle cx="774.7" cy="47.6" r="4.5" fill="#6a9c7f" stroke="#5a8a6e" stroke-width="0.8"/>
<circle cx="787.1" cy="46.1" r="4.5" fill="#6a9c7f" stroke="#5a8a6e" stroke-width="0.8"/>
<circle cx="810.5" cy="123.9" r="6.6" fill="#9467bd" stroke="#8056a8" stroke-width="0.8"/>
<circle cx="806.4" cy="46.7" r="4.5" fill="#9467bd" stroke="#8056a8" stroke-width="0.8"/>
<circle cx="822.5" cy="48.9" r="4.5" fill="#9467bd" stroke="#8056a8" stroke-width="0.8"/>
<circle cx="834.3" cy="51.9" r="4.5" fill="#9467bd" stroke="#8056a8" stroke-width="0.8"/>
<circle cx="845.7" cy="56.1" r="4.5" fill="#9467bd" stroke="#8056a8" stroke-width="0.8"/>
<circle cx="858.2" cy="61.9" r="4.5" fill="#9467bd" stroke="#8056a8" stroke-width="0.8"/>
<circle cx="845.4" cy="112.8" r="6.4" fill="#c5ced6" stroke="#9aa6b0" stroke-width="0.8"/>
<circle cx="870" cy="68.9" r="4.5" fill="#c5ced6" stroke="#9aa6b0" stroke-width="0.8"/>
<circle cx="878.6" cy="74.7" r="4.5" fill="#c5ced6" stroke="#9aa6b0" stroke-width="0.8"/>
<circle cx="887.1" cy="82.2" r="4.5" fill="#c5ced6" stroke="#9aa6b0" stroke-width="0.8"/>
<circle cx="872.0" cy="144.3" r="9.0" fill="#2c3e50" stroke="#2c3e50" stroke-width="0.8"/>
<circle cx="900.4" cy="95.7" r="4.5" fill="#2c3e50" stroke="#2c3e50" stroke-width="0.8"/>
<circle cx="906.4" cy="103.9" r="4.5" fill="#2c3e50" stroke="#2c3e50" stroke-width="0.8"/>
<circle cx="911.6" cy="113.7" r="4.5" fill="#2c3e50" stroke="#2c3e50" stroke-width="0.8"/>
<circle cx="917" cy="123.6" r="4.5" fill="#2c3e50" stroke="#2c3e50" stroke-width="0.8"/>
<circle cx="921.3" cy="134.3" r="4.5" fill="#2c3e50" stroke="#2c3e50" stroke-width="0.8"/>
<circle cx="924.3" cy="145.4" r="4.5" fill="#2c3e50" stroke="#2c3e50" stroke-width="0.8"/>
<circle cx="926.4" cy="156.1" r="4.5" fill="#2c3e50" stroke="#2c3e50" stroke-width="0.8"/>
<circle cx="878.0" cy="196.0" r="6.9" fill="#5f9ea0" stroke="#4f8e90" stroke-width="0.8"/>
<circle cx="927.1" cy="170.5" r="4.5" fill="#5f9ea0" stroke="#4f8e90" stroke-width="0.8"/>
<circle cx="927.5" cy="181.4" r="4.5" fill="#5f9ea0" stroke="#4f8e90" stroke-width="0.8"/>
<circle cx="925.6" cy="192.6" r="4.5" fill="#5f9ea0" stroke="#4f8e90" stroke-width="0.8"/>
<circle cx="923.9" cy="203.3" r="4.5" fill="#5f9ea0" stroke="#4f8e90" stroke-width="0.8"/>
<circle cx="921.3" cy="214.6" r="4.5" fill="#5f9ea0" stroke="#4f8e90" stroke-width="0.8"/>
<circle cx="917.3" cy="224.5" r="4.5" fill="#5f9ea0" stroke="#4f8e90" stroke-width="0.8"/>
<circle cx="912.8" cy="235.7" r="4.5" fill="#5f9ea0" stroke="#4f8e90" stroke-width="0.8"/>
<circle cx="844.1" cy="241.2" r="8.6" fill="#8fc1a9" stroke="#6aa58a" stroke-width="0.8"/>
<circle cx="904.7" cy="248.5" r="4.5" fill="#8fc1a9" stroke="#6aa58a" stroke-width="0.8"/>
<circle cx="897.4" cy="259" r="4.5" fill="#8fc1a9" stroke="#6aa58a" stroke-width="0.8"/>
<circle cx="890.8" cy="267.1" r="4.5" fill="#8fc1a9" stroke="#6aa58a" stroke-width="0.8"/>
<circle cx="882.9" cy="274.6" r="4.5" fill="#8fc1a9" stroke="#6aa58a" stroke-width="0.8"/>
<circle cx="873.8" cy="282" r="4.5" fill="#8fc1a9" stroke="#6aa58a" stroke-width="0.8"/>
<circle cx="865.4" cy="288.4" r="4.5" fill="#8fc1a9" stroke="#6aa58a" stroke-width="0.8"/>
<circle cx="856" cy="293.3" r="4.5" fill="#8fc1a9" stroke="#6aa58a" stroke-width="0.8"/>
<circle cx="845.8" cy="297.4" r="4.5" fill="#8fc1a9" stroke="#6aa58a" stroke-width="0.8"/>
<circle cx="835.4" cy="302.1" r="4.5" fill="#8fc1a9" stroke="#6aa58a" stroke-width="0.8"/>
<circle cx="825.4" cy="305.3" r="4.5" fill="#8fc1a9" stroke="#6aa58a" stroke-width="0.8"/>
<circle cx="800.4" cy="256.8" r="6.9" fill="#2c3e50" stroke="#46648c" stroke-width="0.8"/>
<circle cx="811.4" cy="307.9" r="4.5" fill="#2c3e50" stroke="#46648c" stroke-width="0.8"/>
<circle cx="800.3" cy="308.3" r="4.5" fill="#2c3e50" stroke="#46648c" stroke-width="0.8"/>
<circle cx="789.6" cy="307.9" r="4.5" fill="#2c3e50" stroke="#46648c" stroke-width="0.8"/>
<circle cx="780.4" cy="218.8" r="6.4" fill="#d4881e" stroke="#b87018" stroke-width="0.8"/>
<circle cx="774.6" cy="307" r="4.5" fill="#d4881e" stroke="#b87018" stroke-width="0.8"/>
<circle cx="763.9" cy="304.6" r="4.5" fill="#d4881e" stroke="#b87018" stroke-width="0.8"/>
<circle cx="753.2" cy="301.8" r="4.5" fill="#d4881e" stroke="#b87018" stroke-width="0.8"/>
<circle cx="743.6" cy="298.6" r="4.5" fill="#d4881e" stroke="#b87018" stroke-width="0.8"/>
<circle cx="733.5" cy="293.9" r="4.5" fill="#d4881e" stroke="#b87018" stroke-width="0.8"/>
<circle cx="724.3" cy="288.9" r="4.5" fill="#d4881e" stroke="#b87018" stroke-width="0.8"/>
<circle cx="757.0" cy="216.8" r="7.4" fill="#c5e0b4" stroke="#8fb08a" stroke-width="0.8"/>
<circle cx="712.5" cy="280.4" r="4.5" fill="#c5e0b4" stroke="#8fb08a" stroke-width="0.8"/>
<circle cx="703.9" cy="272.4" r="4.5" fill="#c5e0b4" stroke="#8fb08a" stroke-width="0.8"/>
<circle cx="696.4" cy="264.7" r="4.5" fill="#c5e0b4" stroke="#8fb08a" stroke-width="0.8"/>
<circle cx="689" cy="255.4" r="4.5" fill="#c5e0b4" stroke="#8fb08a" stroke-width="0.8"/>
<circle cx="683.2" cy="246.9" r="4.5" fill="#c5e0b4" stroke="#8fb08a" stroke-width="0.8"/>
<circle cx="749.6" cy="188.9" r="6.0" fill="#6d6e71" stroke="#58595c" stroke-width="0.8"/>
<circle cx="676.8" cy="236.8" r="4.5" fill="#6d6e71" stroke="#58595c" stroke-width="0.8"/>
<circle cx="672.1" cy="226.7" r="4.5" fill="#6d6e71" stroke="#58595c" stroke-width="0.8"/>
<circle cx="668.9" cy="216.9" r="4.5" fill="#6d6e71" stroke="#58595c" stroke-width="0.8"/>
<circle cx="665.6" cy="206.8" r="4.5" fill="#6d6e71" stroke="#58595c" stroke-width="0.8"/>
<circle cx="663.9" cy="196.1" r="4.5" fill="#6d6e71" stroke="#58595c" stroke-width="0.8"/>
<circle cx="717.0" cy="164.5" r="9.5" fill="#546878" stroke="#465a6a" stroke-width="0.8"/>
<circle cx="662.4" cy="183.2" r="4.5" fill="#546878" stroke="#465a6a" stroke-width="0.8"/>
<circle cx="662.2" cy="170.7" r="4.5" fill="#546878" stroke="#465a6a" stroke-width="0.8"/>
<circle cx="662.9" cy="160.6" r="4.5" fill="#546878" stroke="#465a6a" stroke-width="0.8"/>
<circle cx="664.6" cy="150.4" r="4.5" fill="#546878" stroke="#465a6a" stroke-width="0.8"/>
<circle cx="667.1" cy="139.2" r="4.5" fill="#546878" stroke="#465a6a" stroke-width="0.8"/>
<circle cx="747.2" cy="137.5" r="7.0" fill="#dd8452" stroke="#c87040" stroke-width="0.8"/>
<circle cx="671.4" cy="126.8" r="4.5" fill="#dd8452" stroke="#c87040" stroke-width="0.8"/>
<circle cx="676" cy="116.1" r="4.5" fill="#dd8452" stroke="#c87040" stroke-width="0.8"/>
<circle cx="680.3" cy="108.1" r="4.5" fill="#dd8452" stroke="#c87040" stroke-width="0.8"/>
<circle cx="685.4" cy="100.4" r="4.5" fill="#dd8452" stroke="#c87040" stroke-width="0.8"/>
<circle cx="692.5" cy="91.9" r="4.5" fill="#dd8452" stroke="#c87040" stroke-width="0.8"/>
<circle cx="790.7" cy="173.0" r="11" fill="#7a7a7a"/>
<text transform="translate(696.56,74.91) rotate(404.6)" text-anchor="end" y="3.2" font-size="9.5" fill="#222" stroke="#222" stroke-width="0.2" textLength="24.99" lengthAdjust="spacingAndGlyphs">Alone</text>
<text transform="translate(705.73,67.31) rotate(409.4)" text-anchor="end" y="3.2" font-size="9.5" fill="#222" stroke="#222" stroke-width="0.2" textLength="32.98" lengthAdjust="spacingAndGlyphs">Turning</text>
<text transform="translate(714.8,60.89) rotate(414.0)" text-anchor="end" y="3.2" font-size="9.5" fill="#222" stroke="#222" stroke-width="0.2" textLength="39.11" lengthAdjust="spacingAndGlyphs">Together</text>
<text transform="translate(727.38,54.01) rotate(419.8)" text-anchor="end" y="3.2" font-size="9.5" fill="#222" stroke="#222" stroke-width="0.2" textLength="39.89" lengthAdjust="spacingAndGlyphs">obscured</text>
<text transform="translate(738.17,48.87) rotate(424.7)" text-anchor="end" y="3.2" font-size="9.5" fill="#222" stroke="#222" stroke-width="0.2" textLength="55.45" lengthAdjust="spacingAndGlyphs">Independent</text>
<text transform="translate(749.61,43.87) rotate(431.3)" text-anchor="end" y="3.2" font-size="9.5" fill="#222" stroke="#222" stroke-width="0.2" textLength="42.08" lengthAdjust="spacingAndGlyphs">Individual</text>
<text transform="translate(761.47,40.96) rotate(436.3)" text-anchor="end" y="3.2" font-size="9.5" fill="#222" stroke="#222" stroke-width="0.2" textLength="31.28" lengthAdjust="spacingAndGlyphs">Human</text>
<text transform="translate(773.33,38.7) rotate(441.2)" text-anchor="end" y="3.2" font-size="9.5" fill="#222" stroke="#222" stroke-width="0.2" textLength="36.18" lengthAdjust="spacingAndGlyphs">Children</text>
<text transform="translate(786.58,37.11) rotate(446.7)" text-anchor="end" y="3.2" font-size="9.5" fill="#222" stroke="#222" stroke-width="0.2" textLength="21.85" lengthAdjust="spacingAndGlyphs">Floks</text>
<text transform="translate(807.21,37.74) rotate(-84.8)" y="3.2" font-size="9.5" fill="#222" stroke="#222" stroke-width="0.2" textLength="14.43" lengthAdjust="spacingAndGlyphs">Car</text>
<text transform="translate(824.42,40.11) rotate(-77.7)" y="3.2" font-size="9.5" fill="#222" stroke="#222" stroke-width="0.2" textLength="17.26" lengthAdjust="spacingAndGlyphs">Taxi</text>
<text transform="translate(837.03,43.32) rotate(-72.4)" y="3.2" font-size="9.5" fill="#222" stroke="#222" stroke-width="0.2" textLength="24.98" lengthAdjust="spacingAndGlyphs">Autos</text>
<text transform="translate(849.21,47.81) rotate(-67.1)" y="3.2" font-size="9.5" fill="#222" stroke="#222" stroke-width="0.2" textLength="15.48" lengthAdjust="spacingAndGlyphs">Bus</text>
<text transform="translate(862.56,54.03) rotate(-61.0)" y="3.2" font-size="9.5" fill="#222" stroke="#222" stroke-width="0.2" textLength="23.73" lengthAdjust="spacingAndGlyphs">Truck</text>
<text transform="translate(875.16,61.52) rotate(-52.6)" y="3.2" font-size="9.5" fill="#222" stroke="#222" stroke-width="0.2" textLength="19.42" lengthAdjust="spacingAndGlyphs">Tree</text>
<text transform="translate(884.32,67.75) rotate(-48.1)" y="3.2" font-size="9.5" fill="#222" stroke="#222" stroke-width="0.2" textLength="19.08" lengthAdjust="spacingAndGlyphs">Pool</text>
<text transform="translate(893.39,75.77) rotate(-43.1)" y="3.2" font-size="9.5" fill="#222" stroke="#222" stroke-width="0.2" textLength="31.49" lengthAdjust="spacingAndGlyphs">Market</text>
<text transform="translate(907.54,90.22) rotate(-36.5)" y="3.2" font-size="9.5" fill="#222" stroke="#222" stroke-width="0.2" textLength="26.44" lengthAdjust="spacingAndGlyphs">Travel</text>
<text transform="translate(913.94,98.98) rotate(-32.1)" y="3.2" font-size="9.5" fill="#222" stroke="#222" stroke-width="0.2" textLength="22.72" lengthAdjust="spacingAndGlyphs">Drive</text>
<text transform="translate(919.52,109.43) rotate(-27.3)" y="3.2" font-size="9.5" fill="#222" stroke="#222" stroke-width="0.2" textLength="31.64" lengthAdjust="spacingAndGlyphs">Recede</text>
<text transform="translate(925.25,120.01) rotate(-22.5)" y="3.2" font-size="9.5" fill="#222" stroke="#222" stroke-width="0.2" textLength="35.37" lengthAdjust="spacingAndGlyphs">Proceed</text>
<text transform="translate(929.83,131.44) rotate(-17.5)" y="3.2" font-size="9.5" fill="#222" stroke="#222" stroke-width="0.2" textLength="29.69" lengthAdjust="spacingAndGlyphs">Depart</text>
<text transform="translate(933.05,143.28) rotate(-12.6)" y="3.2" font-size="9.5" fill="#222" stroke="#222" stroke-width="0.2" textLength="36.9" lengthAdjust="spacingAndGlyphs">Advance</text>
<text transform="translate(935.29,154.7) rotate(-7.9)" y="3.2" font-size="9.5" fill="#222" stroke="#222" stroke-width="0.2" textLength="24.98" lengthAdjust="spacingAndGlyphs">Come</text>
<text transform="translate(936.09,170.07) rotate(-0.2)" y="3.2" font-size="9.5" fill="#222" stroke="#222" stroke-width="0.2" textLength="29.92" lengthAdjust="spacingAndGlyphs">Parked</text>
<text transform="translate(936.49,181.71) rotate(4.5)" y="3.2" font-size="9.5" fill="#222" stroke="#222" stroke-width="0.2" textLength="40.89" lengthAdjust="spacingAndGlyphs">Immobile</text>
<text transform="translate(934.54,193.68) rotate(9.4)" y="3.2" font-size="9.5" fill="#222" stroke="#222" stroke-width="0.2" textLength="35.98" lengthAdjust="spacingAndGlyphs">Stopped</text>
<text transform="translate(932.72,205.11) rotate(14.1)" y="3.2" font-size="9.5" fill="#222" stroke="#222" stroke-width="0.2" textLength="53.07" lengthAdjust="spacingAndGlyphs">Non-moving</text>
<text transform="translate(929.92,217.17) rotate(19.1)" y="3.2" font-size="9.5" fill="#222" stroke="#222" stroke-width="0.2" textLength="23.96" lengthAdjust="spacingAndGlyphs">Static</text>
<text transform="translate(925.69,227.76) rotate(23.7)" y="3.2" font-size="9.5" fill="#222" stroke="#222" stroke-width="0.2" textLength="18.73" lengthAdjust="spacingAndGlyphs">Rest</text>
<text transform="translate(920.86,239.71) rotate(29.0)" y="3.2" font-size="9.5" fill="#222" stroke="#222" stroke-width="0.2" textLength="28.31" lengthAdjust="spacingAndGlyphs">Placed</text>
<text transform="translate(912.24,253.41) rotate(34.6)" y="3.2" font-size="9.5" fill="#222" stroke="#222" stroke-width="0.2" textLength="20.99" lengthAdjust="spacingAndGlyphs">Light</text>
<text transform="translate(904.43,264.62) rotate(40.1)" y="3.2" font-size="9.5" fill="#222" stroke="#222" stroke-width="0.2" textLength="20.12" lengthAdjust="spacingAndGlyphs">Dark</text>
<text transform="translate(897.36,273.26) rotate(44.7)" y="3.2" font-size="9.5" fill="#222" stroke="#222" stroke-width="0.2" textLength="16.6" lengthAdjust="spacingAndGlyphs">Red</text>
<text transform="translate(888.93,281.28) rotate(49.4)" y="3.2" font-size="9.5" fill="#222" stroke="#222" stroke-width="0.2" textLength="19.04" lengthAdjust="spacingAndGlyphs">Blue</text>
<text transform="translate(879.21,289.19) rotate(54.5)" y="3.2" font-size="9.5" fill="#222" stroke="#222" stroke-width="0.2" textLength="22.58" lengthAdjust="spacingAndGlyphs">Black</text>
<text transform="translate(870.22,296) rotate(59.1)" y="3.2" font-size="9.5" fill="#222" stroke="#222" stroke-width="0.2" textLength="26.26" lengthAdjust="spacingAndGlyphs">White</text>
<text transform="translate(860.2,301.26) rotate(63.7)" y="3.2" font-size="9.5" fill="#222" stroke="#222" stroke-width="0.2" textLength="26.51" lengthAdjust="spacingAndGlyphs">Green</text>
<text transform="translate(849.32,305.68) rotate(68.5)" y="3.2" font-size="9.5" fill="#222" stroke="#222" stroke-width="0.2" textLength="20.47" lengthAdjust="spacingAndGlyphs">Grey</text>
<text transform="translate(838.19,310.66) rotate(73.5)" y="3.2" font-size="9.5" fill="#222" stroke="#222" stroke-width="0.2" textLength="28.46" lengthAdjust="spacingAndGlyphs">Yellow</text>
<text transform="translate(827.5,314.05) rotate(78.0)" y="3.2" font-size="9.5" fill="#222" stroke="#222" stroke-width="0.2" textLength="28.2" lengthAdjust="spacingAndGlyphs">Brown</text>
<text transform="translate(812.54,316.83) rotate(268.7)" text-anchor="end" y="3.2" font-size="9.5" fill="#222" stroke="#222" stroke-width="0.2" textLength="33.88" lengthAdjust="spacingAndGlyphs">Pedicab</text>
<text transform="translate(800.69,317.29) rotate(273.5)" text-anchor="end" y="3.2" font-size="9.5" fill="#222" stroke="#222" stroke-width="0.2" textLength="21.39" lengthAdjust="spacingAndGlyphs">Trike</text>
<g transform="translate(789.26,316.89) rotate(278.2)"><text text-anchor="end" y="-6.6" font-size="9.5" fill="#222" stroke="#222" stroke-width="0.2" textLength="28.23" lengthAdjust="spacingAndGlyphs">Three-</text><text text-anchor="end" y="3.2" font-size="9.5" fill="#222" stroke="#222" stroke-width="0.2" textLength="35.11" lengthAdjust="spacingAndGlyphs">wheeler</text></g>
<text transform="translate(773.23,315.9) rotate(283.7)" text-anchor="end" y="3.2" font-size="9.5" fill="#222" stroke="#222" stroke-width="0.2" textLength="57.12" lengthAdjust="spacingAndGlyphs">Two-wheeles</text>
<text transform="translate(761.8,313.35) rotate(288.5)" text-anchor="end" y="3.2" font-size="9.5" fill="#222" stroke="#222" stroke-width="0.2" textLength="38.85" lengthAdjust="spacingAndGlyphs">Pushbike</text>
<text transform="translate(750.37,310.34) rotate(293.3)" text-anchor="end" y="3.2" font-size="9.5" fill="#222" stroke="#222" stroke-width="0.2" textLength="18.3" lengthAdjust="spacingAndGlyphs">Bike</text>
<text transform="translate(740.12,306.9) rotate(297.7)" text-anchor="end" y="3.2" font-size="9.5" fill="#222" stroke="#222" stroke-width="0.2" textLength="47.7" lengthAdjust="spacingAndGlyphs">Pedal cycle</text>
<text transform="translate(729.34,301.88) rotate(302.6)" text-anchor="end" y="3.2" font-size="9.5" fill="#222" stroke="#222" stroke-width="0.2" textLength="52.01" lengthAdjust="spacingAndGlyphs">Electric bike</text>
<text transform="translate(719.52,296.52) rotate(307.1)" text-anchor="end" y="3.2" font-size="9.5" fill="#222" stroke="#222" stroke-width="0.2" textLength="26.51" lengthAdjust="spacingAndGlyphs">E-bike</text>
<text transform="translate(706.91,287.45) rotate(315.4)" text-anchor="end" y="3.2" font-size="9.5" fill="#222" stroke="#222" stroke-width="0.2" textLength="32.62" lengthAdjust="spacingAndGlyphs">Avenue</text>
<text transform="translate(697.71,278.93) rotate(320.5)" text-anchor="end" y="3.2" font-size="9.5" fill="#222" stroke="#222" stroke-width="0.2" textLength="56.26" lengthAdjust="spacingAndGlyphs">Straightaway</text>
<text transform="translate(689.69,270.7) rotate(325.2)" text-anchor="end" y="3.2" font-size="9.5" fill="#222" stroke="#222" stroke-width="0.2" textLength="53.38" lengthAdjust="spacingAndGlyphs">Roundabout</text>
<text transform="translate(681.78,260.77) rotate(330.3)" text-anchor="end" y="3.2" font-size="9.5" fill="#222" stroke="#222" stroke-width="0.2" textLength="36.12" lengthAdjust="spacingAndGlyphs">Junction</text>
<text transform="translate(675.58,251.69) rotate(334.8)" text-anchor="end" y="3.2" font-size="9.5" fill="#222" stroke="#222" stroke-width="0.2" textLength="47.3" lengthAdjust="spacingAndGlyphs">Crossroads</text>
<text transform="translate(668.78,240.88) rotate(335.5)" text-anchor="end" y="3.2" font-size="9.5" fill="#222" stroke="#222" stroke-width="0.2" textLength="23.82" lengthAdjust="spacingAndGlyphs">Pants</text>
<text transform="translate(663.76,230.1) rotate(340.3)" text-anchor="end" y="3.2" font-size="9.5" fill="#222" stroke="#222" stroke-width="0.2" textLength="37.28" lengthAdjust="spacingAndGlyphs">Trousers</text>
<text transform="translate(660.33,219.64) rotate(344.8)" text-anchor="end" y="3.2" font-size="9.5" fill="#222" stroke="#222" stroke-width="0.2" textLength="24.25" lengthAdjust="spacingAndGlyphs">Shirts</text>
<text transform="translate(656.83,208.84) rotate(349.4)" text-anchor="end" y="3.2" font-size="9.5" fill="#222" stroke="#222" stroke-width="0.2" textLength="42.47" lengthAdjust="spacingAndGlyphs">Garments</text>
<text transform="translate(655,197.41) rotate(354.1)" text-anchor="end" y="3.2" font-size="9.5" fill="#222" stroke="#222" stroke-width="0.2" textLength="32.06" lengthAdjust="spacingAndGlyphs">Sleeves</text>
<text transform="translate(653.41,183.64) rotate(357.7)" text-anchor="end" y="3.2" font-size="9.5" fill="#222" stroke="#222" stroke-width="0.2" textLength="55.37" lengthAdjust="spacingAndGlyphs">Construction</text>
<text transform="translate(653.21,170.29) rotate(363.1)" text-anchor="end" y="3.2" font-size="9.5" fill="#222" stroke="#222" stroke-width="0.2" textLength="46.89" lengthAdjust="spacingAndGlyphs">Apartment</text>
<text transform="translate(653.97,159.5) rotate(367.5)" text-anchor="end" y="3.2" font-size="9.5" fill="#222" stroke="#222" stroke-width="0.2" textLength="27.18" lengthAdjust="spacingAndGlyphs">House</text>
<text transform="translate(655.78,148.61) rotate(372.0)" text-anchor="end" y="3.2" font-size="9.5" fill="#222" stroke="#222" stroke-width="0.2" textLength="28.59" lengthAdjust="spacingAndGlyphs">Edifice</text>
<text transform="translate(658.47,136.65) rotate(376.9)" text-anchor="end" y="3.2" font-size="9.5" fill="#222" stroke="#222" stroke-width="0.2" textLength="40.26" lengthAdjust="spacingAndGlyphs">Structure</text>
<text transform="translate(663.06,123.42) rotate(378.1)" text-anchor="end" y="3.2" font-size="9.5" fill="#222" stroke="#222" stroke-width="0.2" textLength="32.39" lengthAdjust="spacingAndGlyphs">Aligned</text>
<text transform="translate(667.99,112) rotate(383.1)" text-anchor="end" y="3.2" font-size="9.5" fill="#222" stroke="#222" stroke-width="0.2" textLength="39.14" lengthAdjust="spacingAndGlyphs">Opposite</text>
<text transform="translate(672.59,103.46) rotate(387.0)" text-anchor="end" y="3.2" font-size="9.5" fill="#222" stroke="#222" stroke-width="0.2" textLength="31.74" lengthAdjust="spacingAndGlyphs">Farther</text>
<text transform="translate(678.03,95.24) rotate(391.0)" text-anchor="end" y="3.2" font-size="9.5" fill="#222" stroke="#222" stroke-width="0.2" textLength="22.29" lengthAdjust="spacingAndGlyphs">Right</text>
<text transform="translate(685.58,86.15) rotate(395.7)" text-anchor="end" y="3.2" font-size="9.5" fill="#222" stroke="#222" stroke-width="0.2" textLength="16.51" lengthAdjust="spacingAndGlyphs">Left</text>
<text x="724.6" y="88.7" font-size="10.2" fill="#111" font-weight="bold" textLength="22.1" lengthAdjust="spacingAndGlyphs">State</text>
<text x="758.2" y="70.7" font-size="10.2" fill="#111" font-weight="bold" textLength="29.4" lengthAdjust="spacingAndGlyphs">People</text>
<text x="810.7" y="83.6" font-size="10.2" fill="#111" font-weight="bold" textLength="31.7" lengthAdjust="spacingAndGlyphs">Vehicle</text>
<text x="846" y="101.8" font-size="10.2" fill="#111" font-weight="bold" textLength="29.6" lengthAdjust="spacingAndGlyphs">Others</text>
<text x="882.5" y="139.7" font-size="10.2" fill="#111" font-weight="bold" textLength="24.6" lengthAdjust="spacingAndGlyphs">Move</text>
<text x="860.7" y="214" font-size="10.2" fill="#111" font-weight="bold" textLength="46.1" lengthAdjust="spacingAndGlyphs">Stationary</text>
<text x="838.7" y="259.3" font-size="10.2" fill="#111" font-weight="bold" textLength="23.3" lengthAdjust="spacingAndGlyphs">Color</text>
<text x="785.7" y="288" font-size="10.2" fill="#111" font-weight="bold" textLength="32.2" lengthAdjust="spacingAndGlyphs">Tricycle</text>
<text x="748.9" y="265.4" font-size="10.2" fill="#111" font-weight="bold" textLength="30" lengthAdjust="spacingAndGlyphs">Bicycle</text>
<text x="710" y="248" font-size="10.2" fill="#111" font-weight="bold" textLength="22.5" lengthAdjust="spacingAndGlyphs">Road</text>
<text x="686" y="208.5" font-size="10.2" fill="#111" font-weight="bold" textLength="32.6" lengthAdjust="spacingAndGlyphs">Clothes</text>
<text x="669.7" y="165.4" font-size="10.2" fill="#111" font-weight="bold" textLength="35.6" lengthAdjust="spacingAndGlyphs">Building</text>
<text x="688.1" y="126.4" font-size="10.2" fill="#111" font-weight="bold" textLength="40.1" lengthAdjust="spacingAndGlyphs">Direction</text>
</g>
<g font-family="Liberation Sans">
<text x="798.6" y="366.8" font-size="14.8" fill="#111" font-weight="bold" textLength="16.5" lengthAdjust="spacingAndGlyphs">(e)</text>
</g>
</svg>
</body></html>
